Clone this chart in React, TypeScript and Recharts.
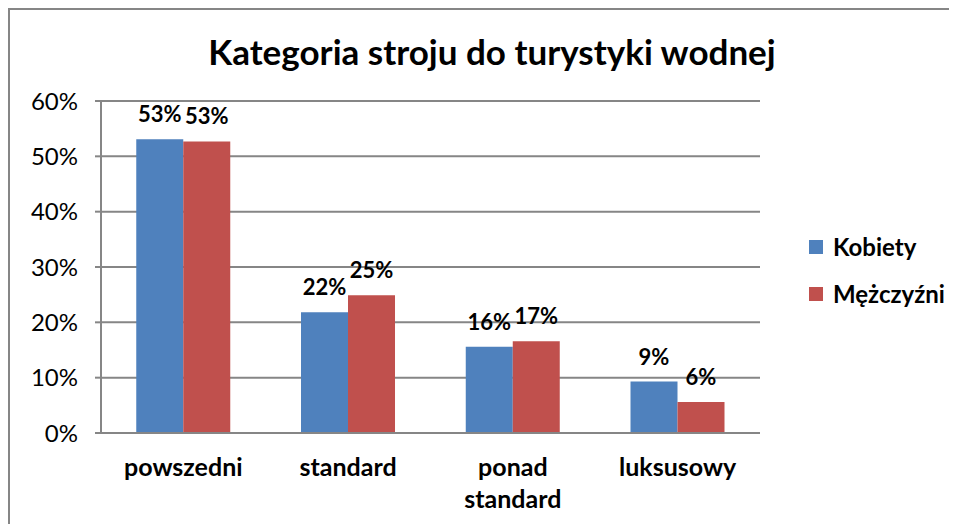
import React from 'react';
import { BarChart, Bar, XAxis, YAxis, CartesianGrid, LabelList, Legend } from 'recharts';

const categories = ['powszedni', 'standard', 'ponad standard', 'luksusowy'];
const kobiety = [53.1, 21.8, 15.6, 9.3];
const mezczyzni = [52.7, 24.9, 16.6, 5.6];
const yTicks = [0, 10, 20, 30, 40, 50, 60];
const edgeTicks = [0, 1, 2, 3, 4];
const seriesNames = ['Kobiety', 'Mężczyźni'];
const title = 'Kategoria stroju do turystyki wodnej';

const data = categories.map((c, i) => ({ name: c, k: kobiety[i], m: mezczyzni[i] }));

const BLUE = '#4F81BD';
const RED = '#C0504D';
const GRID = '#868686';
const FONT = 'Lato, "Open Sans", sans-serif';

const CatTick = (props: any) => {
  const { x, y, payload } = props;
  const words = String(payload.value).split(' ');
  const lines = words.length > 1 ? words : [payload.value];
  return (
    <g>
      {lines.map((l: string, i: number) => (
        <text
          key={i}
          x={x}
          y={y + 42 + i * 32}
          textAnchor="middle"
          fontFamily={FONT}
          fontWeight={700}
          fontSize={25}
          fill="#000"
        >
          {l}
        </text>
      ))}
    </g>
  );
};

const LegendContent = (props: any) => {
  const { payload } = props;
  return (
    <div>
      {(payload || []).map((p: any, i: number) => (
        <div
          key={i}
          style={{ display: 'flex', alignItems: 'center', height: 47, fontFamily: FONT, fontWeight: 700, fontSize: 24, color: '#000' }}
        >
          <span style={{ display: 'inline-block', width: 14, height: 14, background: p.color, marginRight: 10 }} />
          <span>{p.value}</span>
        </div>
      ))}
    </div>
  );
};

export default function App() {
  return (
    <div
      style={{
        position: 'relative',
        width: 949,
        height: 516,
        boxSizing: 'border-box',
        borderTop: `2px solid ${GRID}`,
        borderLeft: `2px solid ${GRID}`,
        background: '#fff',
      }}
    >
      <div
        style={{
          position: 'absolute',
          left: 132,
          width: 700,
          top: 24,
          textAlign: 'center',
          fontFamily: FONT,
          fontWeight: 700,
          fontSize: 35,
          lineHeight: '35px',
          color: '#000',
          whiteSpace: 'nowrap',
        }}
      >
        {title}
      </div>
      <BarChart
        width={939}
        height={506}
        data={data}
        margin={{ top: 91, right: 189, left: 0, bottom: 0 }}
        barCategoryGap="21.4%"
        barGap={0}
        style={{ position: 'absolute', left: 0, top: 0 }}
      >
        <CartesianGrid xAxisId="b" vertical={false} stroke={GRID} strokeWidth={2} />
        <XAxis
          xAxisId="b"
          dataKey="name"
          type="category"
          axisLine={false}
          tickLine={false}
          tickSize={0}
          tickMargin={0}
          interval={0}
          height={82}
          tick={<CatTick />}
        />
        <XAxis
          xAxisId="a"
          type="number"
          domain={[0, 4]}
          ticks={edgeTicks}
          tick={false}
          height={1}
          axisLine={{ stroke: GRID, strokeWidth: 2 }}
          tickLine={{ stroke: GRID, strokeWidth: 2 }}
          tickSize={7}
          allowDataOverflow
        />
        <YAxis
          domain={[0, 60]}
          ticks={yTicks}
          width={91}
          axisLine={{ stroke: GRID, strokeWidth: 2 }}
          tickLine={{ stroke: GRID, strokeWidth: 2 }}
          tickSize={6}
          tickMargin={17}
          tickFormatter={(v: number) => `${v}%`}
          tick={{ fontFamily: FONT, fontSize: 24, fill: '#000' }}
        />
        <Legend
          verticalAlign="middle"
          align="center"
          layout="horizontal"
          content={<LegendContent />}
          wrapperStyle={{ left: 799, top: 213, width: 140 }}
        />
        <Bar xAxisId="b" dataKey="k" name={seriesNames[0]} fill={BLUE} isAnimationActive={false}>
          <LabelList
            dataKey="k"
            position="top"
            offset={17}
            formatter={(v: number) => `${Math.round(v)}%`}
            style={{ fontFamily: FONT, fontWeight: 700, fontSize: 22, fill: '#000' }}
          />
        </Bar>
        <Bar xAxisId="b" dataKey="m" name={seriesNames[1]} fill={RED} isAnimationActive={false}>
          <LabelList
            dataKey="m"
            position="top"
            offset={17}
            formatter={(v: number) => `${Math.round(v)}%`}
            style={{ fontFamily: FONT, fontWeight: 700, fontSize: 22, fill: '#000' }}
          />
        </Bar>
      </BarChart>
    </div>
  );
}
